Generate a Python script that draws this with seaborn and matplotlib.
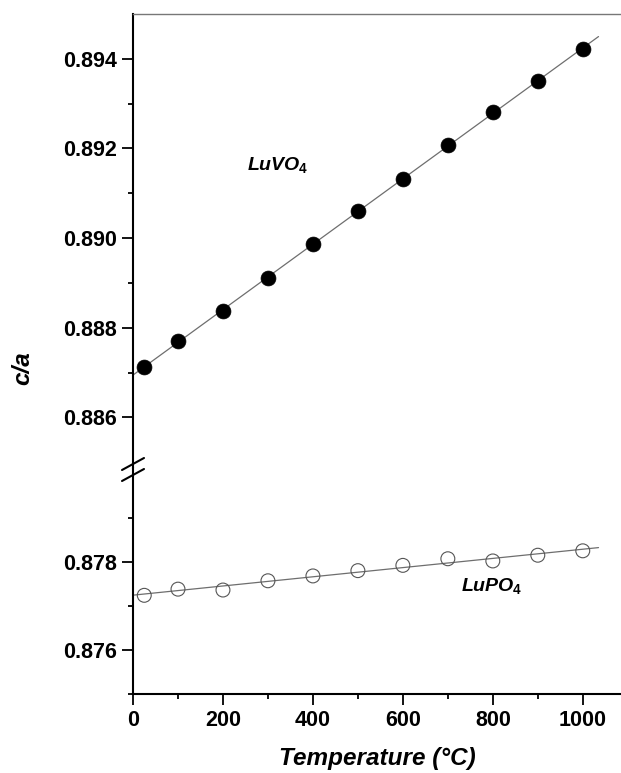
import numpy as np
import pandas as pd
import matplotlib
matplotlib.use("Agg")
import matplotlib.pyplot as plt
from matplotlib.lines import Line2D
from matplotlib.ticker import MultipleLocator, FixedLocator, FormatStrFormatter
import seaborn as sns

# ---- data ----
temperature = [25, 100, 200, 300, 400, 500, 600, 700, 800, 900, 1000]
ca_luvo4 = [0.88713, 0.88770, 0.88838, 0.88910, 0.88987, 0.89060,
            0.89131, 0.89207, 0.89282, 0.89350, 0.89422]
ca_lupo4 = [0.87724, 0.87738, 0.87736, 0.87757, 0.87768, 0.87780,
            0.87792, 0.87807, 0.87802, 0.87815, 0.87825]
fit_range = [0, 1035]
top_major = [0.886, 0.888, 0.890, 0.892, 0.894]
top_minor = [0.887, 0.889, 0.891, 0.893]
bot_major = [0.876, 0.878]
bot_minor = [0.875, 0.877, 0.879]

df = pd.DataFrame({"T": temperature, "LuVO4": ca_luvo4, "LuPO4": ca_lupo4})

sns.set_style("ticks")
plt.rcParams["font.family"] = ["Liberation Sans", "DejaVu Sans"]
plt.rcParams["font.weight"] = "bold"
plt.rcParams["text.color"] = "black"
plt.rcParams["xtick.color"] = "black"
plt.rcParams["ytick.color"] = "black"
plt.rcParams["mathtext.fontset"] = "custom"
plt.rcParams["mathtext.it"] = "Liberation Sans:bold:italic"
plt.rcParams["mathtext.rm"] = "Liberation Sans:bold"

fig = plt.figure(figsize=(6.21, 7.73), dpi=100)
gs = fig.add_gridspec(2, 1, height_ratios=[454, 226], hspace=0,
                      left=0.2142, right=1.0, top=0.9819, bottom=0.1022)
ax_top = fig.add_subplot(gs[0])
ax_bot = fig.add_subplot(gs[1], sharex=ax_top)

# linear fits
fit_x = np.array(fit_range)
for ax, col, filled in [(ax_top, "LuVO4", True), (ax_bot, "LuPO4", False)]:
    k, b = np.polyfit(df["T"], df[col], 1)
    line = pd.DataFrame({"T": fit_x, "y": k * fit_x + b})
    sns.lineplot(data=line, x="T", y="y", ax=ax, color="#6e6e6e", linewidth=0.9)
    if filled:
        sns.scatterplot(data=df, x="T", y=col, ax=ax, s=115, color="black",
                        edgecolor="black", linewidth=0.5, zorder=3)
    else:
        sns.scatterplot(data=df, x="T", y=col, ax=ax, s=100, facecolor="none",
                        edgecolor="#555555", linewidth=0.8, zorder=3)

ax_top.set_ylim(0.88487, 0.8950)
ax_bot.set_ylim(0.8750, 0.88013)
ax_bot.set_xlim(0, 1085)

for ax, majors, minors in [(ax_top, top_major, top_minor),
                           (ax_bot, bot_major, bot_minor)]:
    ax.set_xlabel("")
    ax.set_ylabel("")
    ax.yaxis.set_major_locator(FixedLocator(majors))
    ax.yaxis.set_minor_locator(FixedLocator(minors))
    ax.yaxis.set_major_formatter(FormatStrFormatter("%.3f"))
    ax.tick_params(axis="both", which="major", direction="out", length=7.8,
                   width=1.3, labelsize=15.5, pad=4, left=True)
    ax.tick_params(axis="both", which="minor", direction="out", length=3.8,
                   width=1.3, left=True)
    ax.spines["right"].set_visible(False)
    ax.spines["left"].set_linewidth(1.5)
    ax.spines["left"].set_color("black")
    for lbl in ax.get_yticklabels():
        lbl.set_fontweight("bold")

ax_top.spines["bottom"].set_visible(False)
ax_top.spines["top"].set_color("#777777")
ax_top.spines["top"].set_linewidth(1.0)
ax_top.tick_params(axis="x", which="both", bottom=False, labelbottom=False)

ax_bot.spines["top"].set_visible(False)
ax_bot.spines["bottom"].set_linewidth(1.5)
ax_bot.spines["bottom"].set_color("black")
ax_bot.xaxis.set_major_locator(MultipleLocator(200))
ax_bot.xaxis.set_minor_locator(MultipleLocator(100))
ax_bot.tick_params(axis="x", which="both", bottom=True)
for lbl in ax_bot.get_xticklabels():
    lbl.set_fontweight("bold")

ax_bot.set_xlabel("Temperature (°C)", fontsize=17.5, fontweight="bold",
                  fontstyle="italic", labelpad=11, color="black")
fig.text(23 / 621, 1 - 368 / 773, "c/a", rotation=90, fontsize=17.5,
         fontweight="bold", fontstyle="italic", ha="center", va="center")

ax_top.text(253, 0.89153, r"$LuVO_4$", fontsize=14, ha="left", va="baseline")
ax_bot.text(729, 0.87734, r"$LuPO_4$", fontsize=14, ha="left", va="baseline")

# break marks on the left spine
W, H = 621, 773
for yc in (464, 475):
    fig.add_artist(Line2D([122 / W, 144 / W], [1 - (yc + 6) / H, 1 - (yc - 6) / H],
                          color="black", linewidth=1.5))

fig.savefig("out.png", dpi=100)
